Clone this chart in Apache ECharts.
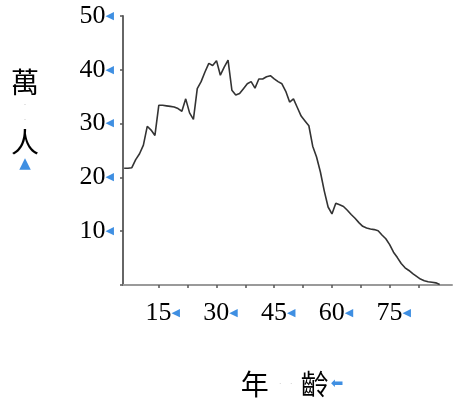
<!DOCTYPE html>
<html>
<head>
<meta charset="utf-8">
<script src="https://cdn.jsdelivr.net/npm/echarts@6/dist/echarts.min.js"></script>
<style>
html,body{margin:0;padding:0;background:#fff;}
#chart{width:468px;height:410px;}
</style>
</head>
<body>
<div id="chart"></div>
<script>
// Age (years)
var ages = [6,7,8,9,10,11,12,13,14,15,16,17,18,19,20,21,22,23,24,25,26,27,28,29,30,
  31,32,33,34,35,36,37,38,39,40,41,42,43,44,45,46,47,48,49,50,51,52,53,54,55,
  56,57,58,59,60,61,62,63,64,65,66,67,68,69,70,71,72,73,74,75,76,77,78,79,80,
  81,82,83,84,85,86,87,88];
// Population (萬人)
var population = [21.7,21.7,21.8,23.3,24.4,26.0,29.5,28.8,27.8,33.4,33.4,33.3,33.2,33.1,32.8,32.3,34.6,32.0,30.8,36.5,
  37.8,39.6,41.2,40.8,41.7,39.0,40.5,41.8,36.2,35.3,35.6,36.5,37.4,37.8,36.6,38.3,38.3,38.7,38.9,38.3,
  37.8,37.4,36.0,34.0,34.6,33.0,31.4,30.5,29.6,25.8,23.8,21.0,17.5,14.5,13.2,15.2,14.9,14.6,13.9,13.1,
  12.4,11.6,10.9,10.6,10.4,10.3,10.1,9.3,8.6,7.5,6.1,5.1,4.0,3.2,2.7,2.1,1.6,1.1,0.8,0.6,
  0.5,0.4,0.1];
var xTickValues = [15,22.5,30,37.5,45,52.5,60,67.5,75,82.5];
var xLabelValues = [15,30,45,60,75];
var yLabelValues = [10,20,30,40,50];

var data = ages.map(function(a, i){ return [a, population[i]]; });

var chart = echarts.init(document.getElementById('chart'), null, {renderer:'canvas'});
var serif = '"Liberation Serif", "Times New Roman", serif';
var cjk = '"Noto Sans CJK TC", "Noto Sans CJK SC", sans-serif';
var blue = '#3f8fe2';

chart.setOption({
  animation: false,
  backgroundColor: '#fff',
  grid: {left: 123, right: 16, top: 16, bottom: 125, containLabel: false},
  xAxis: {
    type: 'value',
    min: 5.7,
    max: 91.2,
    splitLine: {show: false},
    axisLine: {show: true, lineStyle: {color: '#9a9a9a', width: 2}},
    axisTick: {show: true, customValues: xTickValues, length: 3, lineStyle: {color: '#555', width: 1.5}},
    axisLabel: {
      customValues: xLabelValues,
      margin: 14,
      padding: [0,0,0,8],
      formatter: function(v){ return '{n|' + v + '}{t|◀}'; },
      rich: {
        n: {fontFamily: serif, fontSize: 26, color: '#000', lineHeight: 28},
        t: {fontFamily: '"DejaVu Sans"', fontSize: 11, color: blue, lineHeight: 28}
      }
    },
    name: '{a|年}{s|}{d|·}{d|·}{s2|}{a|齡}{s3|}{r|⬅}',
    nameLocation: 'middle',
    nameGap: 99,
    nameTextStyle: {
      verticalAlign: 'middle',
      padding: [0,0,0,9],
      rich: {
        a: {fontFamily: cjk, fontSize: 28, color: '#000', lineHeight: 30},
        s: {width: 6},
        s2: {width: 4},
        s3: {width: 2},
        d: {width: 11, align: 'center', fontSize: 9, color: '#cfcfcf'},
        r: {fontFamily: '"DejaVu Sans"', fontSize: 15, color: blue}
      }
    }
  },
  yAxis: {
    type: 'value',
    min: 0,
    max: 50,
    interval: 10,
    splitLine: {show: false},
    axisLine: {show: true, lineStyle: {color: '#666', width: 2}},
    axisTick: {show: true, length: 3, lineStyle: {color: '#555', width: 1.5}},
    axisLabel: {
      margin: 9,
      formatter: function(v){ return yLabelValues.indexOf(v) >= 0 ? '{n|' + v + '}{t|◀}' : ''; },
      rich: {
        n: {fontFamily: serif, fontSize: 26, color: '#000', lineHeight: 28},
        t: {fontFamily: '"DejaVu Sans"', fontSize: 11, color: blue, lineHeight: 28}
      }
    },
    name: '{a|萬}\n{d|·}\n{d|·}\n{a|人}\n{t|▲}',
    nameLocation: 'middle',
    nameRotate: 0,
    nameGap: 98,
    nameTextStyle: {
      align: 'center',
      verticalAlign: 'middle',
      padding: [0,0,62,0],
      rich: {
        a: {fontFamily: cjk, fontSize: 28, color: '#000', lineHeight: 30, align: 'center'},
        d: {fontSize: 9, color: '#c8c8c8', lineHeight: 15, align: 'center'},
        t: {fontFamily: '"DejaVu Sans"', fontSize: 15, color: blue, lineHeight: 14, align: 'center'}
      }
    }
  },
  series: [{
    type: 'line',
    data: data,
    symbol: 'none',
    lineStyle: {color: '#333', width: 1.6},
    clip: false
  }]
});
</script>
</body>
</html>
